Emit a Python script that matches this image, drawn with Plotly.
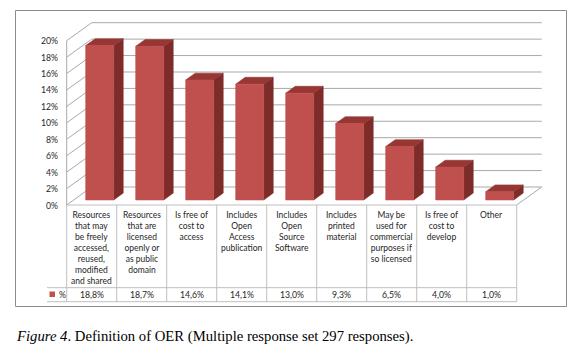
import plotly.graph_objects as go

# ---------------- data ----------------
categories = [
    "Resources<br>that may<br>be freely<br>accessed,<br>reused,<br>modified<br>and shared",
    "Resources<br>that are<br>licensed<br>openly or<br>as public<br>domain",
    "Is free of<br>cost to<br>access",
    "Includes<br>Open<br>Access<br>publication",
    "Includes<br>Open<br>Source<br>Software",
    "Includes<br>printed<br>material",
    "May be<br>used for<br>commercial<br>purposes if<br>so licensed",
    "Is free of<br>cost to<br>develop",
    "Other",
]
values = [18.8, 18.7, 14.6, 14.1, 13.0, 9.3, 6.5, 4.0, 1.0]
value_labels = ["18,8%", "18,7%", "14,6%", "14,1%", "13,0%", "9,3%", "6,5%", "4,0%", "1,0%"]
ytick_vals = [0, 2, 4, 6, 8, 10, 12, 14, 16, 18, 20]
ytick_labels = ["0%", "2%", "4%", "6%", "8%", "10%", "12%", "14%", "16%", "18%", "20%"]
series_name = "%"
caption = "<i>Figure 4</i>. Definition of OER (Multiple response set 297 responses)."

# ---------------- geometry ----------------
W, H = 583, 354
PX_PER_CAT = 50.0
PX_PER_PCT = 8.215
X_ORIGIN_PX = 66.7      # left edge of first category at front plane
Y_ZERO_PX = 205.0       # 0% at front plane
xr = [-0.5 - X_ORIGIN_PX / PX_PER_CAT, -0.5 + (W - X_ORIGIN_PX) / PX_PER_CAT]
yr = [-(H - Y_ZERO_PX) / PX_PER_PCT, Y_ZERO_PX / PX_PER_PCT]

DX = 25.0 / PX_PER_CAT   # full-depth shift in x units
DY = 18.0 / PX_PER_PCT   # full-depth shift in y units
n = len(values)
x_left, x_right = -0.5, n - 0.5
y_top = ytick_vals[-1]


def proj(x, y, f):
    return x + DX * f, y + DY * f


def py(p):  # pixel -> paper y
    return 1 - p / H


def px(p):  # pixel -> paper x
    return p / W


FRONT = "#C0504D"
SIDE = "#7E2C2A"
TOP = "#973734"
GRID = "#A9A9A9"
TABLE = "#BFBFBF"
TXT = "#262626"

shapes = []
# back wall gridlines + left wall diagonals
for v in ytick_vals:
    bx0, by = proj(x_left, v, 1)
    bx1, _ = proj(x_right, v, 1)
    shapes.append(dict(type="line", xref="x", yref="y", x0=bx0, y0=by, x1=bx1, y1=by,
                       line=dict(color=GRID, width=1), layer="below"))
    shapes.append(dict(type="line", xref="x", yref="y", x0=x_left, y0=v, x1=bx0, y1=by,
                       line=dict(color=GRID, width=1), layer="below"))
# left wall front edge
shapes.append(dict(type="line", xref="x", yref="y", x0=x_left, y0=0, x1=x_left, y1=y_top,
                   line=dict(color=GRID, width=1), layer="below"))
# floor right edge
fx, fy = proj(x_right, 0, 1)
shapes.append(dict(type="line", xref="x", yref="y", x0=x_right, y0=0, x1=fx, y1=fy,
                   line=dict(color=GRID, width=1), layer="below"))

# table
t_top, t_mid, t_bot = py(Y_ZERO_PX), py(287.7), py(301.7)
for k in range(n + 1):
    xb = -0.5 + k
    shapes.append(dict(type="line", xref="x", yref="paper", x0=xb, y0=t_top, x1=xb, y1=t_bot,
                       line=dict(color=TABLE, width=1)))
shapes.append(dict(type="line", xref="x", yref="paper", x0=x_left, y0=t_top, x1=x_right, y1=t_top,
                   line=dict(color=TABLE, width=1)))
legend_left = px(47)
for yy in (t_mid, t_bot):
    shapes.append(dict(type="line", xref="paper", yref="paper", x0=legend_left, y0=yy,
                       x1=px(X_ORIGIN_PX + PX_PER_CAT * n), y1=yy, line=dict(color=TABLE, width=1)))
# legend key
shapes.append(dict(type="rect", xref="paper", yref="paper", x0=px(49.5), x1=px(55),
                   y0=py(297), y1=py(291.5), fillcolor=FRONT, line=dict(width=0)))
# outer frame
shapes.append(dict(type="rect", xref="paper", yref="paper", x0=px(15.5), x1=px(566.5),
                   y0=py(306.5), y1=py(10.5), line=dict(color="#8C8C8C", width=1)))

# bars (3D faces)
HALF_W = 0.28
F0, F1 = 0.28, 0.66
X_SHIFT = 0.02
fx_, fy_, sx_, sy_, tx_, ty_ = [], [], [], [], [], []
for i, v in enumerate(values):
    c = i + X_SHIFT
    a0 = proj(c - HALF_W, 0, F0)
    b0 = proj(c + HALF_W, 0, F0)
    a1 = proj(c - HALF_W, v, F0)
    b1 = proj(c + HALF_W, v, F0)
    b0b = proj(c + HALF_W, 0, F1)
    b1b = proj(c + HALF_W, v, F1)
    a1b = proj(c - HALF_W, v, F1)
    for (xs, ys), pts in (((fx_, fy_), [a0, b0, b1, a1]),
                          ((sx_, sy_), [b0, b0b, b1b, b1]),
                          ((tx_, ty_), [a1, b1, b1b, a1b])):
        xs.extend([p[0] for p in pts] + [pts[0][0], None])
        ys.extend([p[1] for p in pts] + [pts[0][1], None])

fig = go.Figure()
for xs, ys, col in ((sx_, sy_, SIDE), (tx_, ty_, TOP), (fx_, fy_, FRONT)):
    fig.add_trace(go.Scatter(x=xs, y=ys, fill="toself", fillcolor=col, mode="lines",
                             line=dict(width=0.6, color=col), hoverinfo="skip",
                             showlegend=False))

annotations = []
FONT = "Lato"
for v, lab in zip(ytick_vals, ytick_labels):
    annotations.append(dict(xref="paper", yref="y", x=px(60), y=v, text=lab, showarrow=False,
                            xanchor="right", yanchor="middle",
                            font=dict(family=FONT, size=8.7, color=TXT)))
for i, cat in enumerate(categories):
    annotations.append(dict(xref="x", yref="paper", x=i, y=py(207.6), text=cat, showarrow=False,
                            xanchor="center", yanchor="top", align="center",
                            font=dict(family=FONT, size=8.5, color=TXT)))
    annotations.append(dict(xref="x", yref="paper", x=i, y=py(294.7), text=value_labels[i],
                            showarrow=False, xanchor="center", yanchor="middle",
                            font=dict(family=FONT, size=8.7, color=TXT)))
annotations.append(dict(xref="paper", yref="paper", x=px(57), y=py(294.7), text=series_name,
                        showarrow=False, xanchor="left", yanchor="middle",
                        font=dict(family=FONT, size=8.7, color=TXT)))
annotations.append(dict(xref="paper", yref="paper", x=px(13.5), y=py(336), text=caption,
                        showarrow=False, xanchor="left", yanchor="middle",
                        font=dict(family="Liberation Serif", size=14.7, color="#000000")))

fig.update_layout(
    width=W, height=H,
    margin=dict(l=0, r=0, t=0, b=0),
    paper_bgcolor="white", plot_bgcolor="white",
    xaxis=dict(range=xr, visible=False, fixedrange=True),
    yaxis=dict(range=yr, visible=False, fixedrange=True),
    shapes=shapes, annotations=annotations,
    showlegend=False,
)
fig.write_html("out.html")
